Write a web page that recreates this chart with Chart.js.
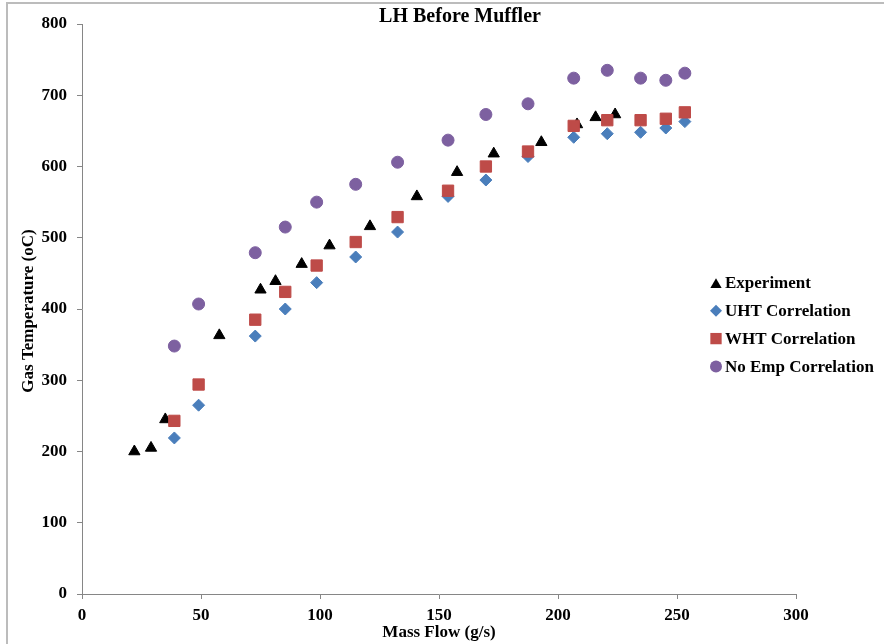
<!DOCTYPE html>
<html>
<head>
<meta charset="utf-8">
<script src="https://cdn.jsdelivr.net/npm/chart.js@4.4.1/dist/chart.umd.min.js"></script>
<style>
  body { margin: 0; background: #fff; }
  #wrap { position: relative; width: 884px; height: 644px; overflow: hidden; }
  #frame { position: absolute; left: 6px; top: 2px; width: 900px; height: 700px;
           border-left: 2px solid #bcbcbc; border-top: 2px solid #bcbcbc; }
  canvas { position: absolute; left: 0; top: 0; }
</style>
</head>
<body>
<div id="wrap">
  <div id="frame"></div>
  <canvas id="chart" width="884" height="644"></canvas>
</div>
<script>
// values
const expFlow = [22, 29, 35, 57.7, 75, 81.3, 92.3, 104, 121, 140.7, 157.6, 173, 193, 208, 215.8, 224];
const expTemp = [200, 205, 245, 363, 427, 439, 463, 489, 516, 558, 592, 618, 634, 659, 669, 673];

const corrFlow = [38.8, 49, 72.8, 85.4, 98.6, 115, 132.6, 153.8, 169.7, 187.4, 206.6, 220.7, 234.7, 245.3, 253.3];
const uhtTemp = [219, 265, 362, 400, 437, 473, 508, 558, 581, 614, 641, 646, 648, 654, 663];
const whtTemp = [243, 294, 385, 424, 461, 494, 529, 566, 600, 621, 657, 665, 665, 667, 676];
const noEmpTemp = [348, 407, 479, 515, 550, 575, 606, 637, 673, 688, 724, 735, 724, 721, 731];

const seriesNames = ['Experiment', 'UHT Correlation', 'WHT Correlation', 'No Emp Correlation'];
const xTicks = [0, 50, 100, 150, 200, 250, 300];
const yTicks = [0, 100, 200, 300, 400, 500, 600, 700, 800];

const FONT = "'Liberation Serif', 'Times New Roman', serif";
const AXIS_COLOR = '#868686';

const toPoints = (xs, ys) => xs.map((x, i) => ({ x: x, y: ys[i] }));

const styles = [
  { color: '#000000', shape: 'triangle', radius: 6.5 },
  { color: '#4a7ebb', shape: 'rectRot', radius: 6 },
  { color: '#be4b48', shape: 'rect', radius: 8 },
  { color: '#7d60a0', shape: 'circle', radius: 6 },
];

// draws title, axis titles and the legend at the spots the reference uses
const extras = {
  id: 'extras',
  afterDraw(chart) {
    const ctx = chart.ctx;
    const area = chart.chartArea;
    ctx.save();
    ctx.fillStyle = '#000';
    ctx.textAlign = 'center';
    ctx.textBaseline = 'middle';

    ctx.font = 'bold 20px ' + FONT;
    ctx.fillText('LH Before Muffler', 460, 17);

    ctx.font = 'bold 17px ' + FONT;
    ctx.fillText('Mass Flow (g/s)', (area.left + area.right) / 2, 633);

    ctx.save();
    ctx.translate(29, (area.top + area.bottom) / 2 + 2);
    ctx.rotate(-Math.PI / 2);
    ctx.fillText('Gas Temperature (oC)', 0, 0);
    ctx.restore();

    // legend
    ctx.textAlign = 'left';
    const mx = 716;
    seriesNames.forEach((name, i) => {
      const y = 283 + i * 27.8;
      const s = styles[i];
      const r = s.radius;
      ctx.fillStyle = s.color;
      ctx.beginPath();
      if (s.shape === 'triangle') {
        const cy = y + r / 4;
        ctx.moveTo(mx, cy - r);
        ctx.lineTo(mx + r * 0.866, cy + r / 2);
        ctx.lineTo(mx - r * 0.866, cy + r / 2);
      } else if (s.shape === 'rectRot') {
        ctx.moveTo(mx - r, y);
        ctx.lineTo(mx, y - r);
        ctx.lineTo(mx + r, y);
        ctx.lineTo(mx, y + r);
      } else if (s.shape === 'rect') {
        const h = r * Math.SQRT1_2;
        ctx.rect(mx - h, y - h, 2 * h, 2 * h);
      } else {
        ctx.arc(mx, y, r, 0, Math.PI * 2);
      }
      ctx.closePath();
      ctx.fill();
      ctx.fillStyle = '#000';
      ctx.fillText(name, 725, y + 1);
    });
    ctx.restore();
  }
};

const datasets = [
  { data: toPoints(expFlow, expTemp), order: 2 },
  { data: toPoints(corrFlow, uhtTemp), order: 3 },
  { data: toPoints(corrFlow, whtTemp), order: 1 },
  { data: toPoints(corrFlow, noEmpTemp), order: 0 },
].map((d, i) => ({
  label: seriesNames[i],
  data: d.data,
  order: d.order,
  pointStyle: styles[i].shape,
  pointRadius: styles[i].radius,
  backgroundColor: styles[i].color,
  borderColor: styles[i].color,
  borderWidth: 1,
  showLine: false,
}));

new Chart(document.getElementById('chart'), {
  type: 'scatter',
  data: { datasets: datasets },
  options: {
    responsive: false,
    animation: false,
    layout: { padding: { left: 0, right: 88, top: 24, bottom: 0 } },
    plugins: {
      legend: { display: false },
      tooltip: { enabled: false },
    },
    scales: {
      x: {
        type: 'linear',
        min: 0,
        max: 300,
        afterBuildTicks: (scale) => { scale.ticks = xTicks.map(v => ({ value: v })); },
        afterFit: (scale) => { scale.height = 50; },
        ticks: {
          color: '#000',
          font: { family: FONT, size: 17, weight: 'bold' },
          padding: 6,
          maxRotation: 0,
        },
        grid: { drawOnChartArea: false, drawTicks: true, tickLength: 5, color: AXIS_COLOR },
        border: { color: AXIS_COLOR, width: 1 },
      },
      y: {
        type: 'linear',
        min: 0,
        max: 800,
        afterBuildTicks: (scale) => { scale.ticks = yTicks.map(v => ({ value: v })); },
        afterFit: (scale) => { scale.width = 82; },
        ticks: {
          color: '#000',
          font: { family: FONT, size: 17, weight: 'bold' },
          padding: 10,
        },
        grid: { drawOnChartArea: false, drawTicks: true, tickLength: 5, color: AXIS_COLOR },
        border: { color: AXIS_COLOR, width: 1 },
      },
    },
  },
  plugins: [extras],
});
</script>
</body>
</html>
